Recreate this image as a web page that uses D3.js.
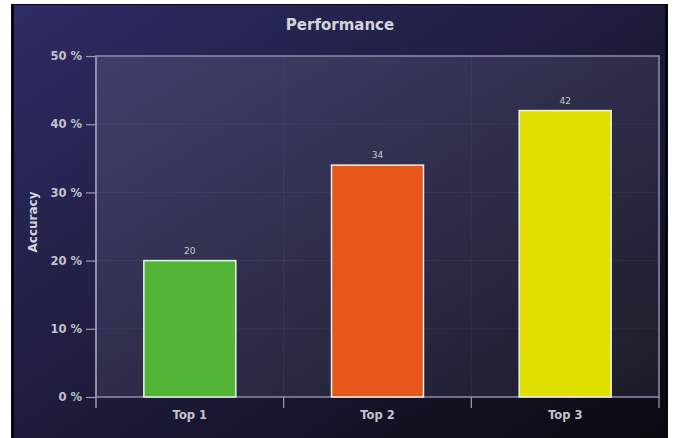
<!DOCTYPE html>
<html><head><meta charset="utf-8">
<script src="https://cdn.jsdelivr.net/npm/d3@7"></script>
<style>html,body{margin:0;padding:0;background:#fff;}svg{display:block;}</style>
</head><body>
<script>
const categories = ["Top 1", "Top 2", "Top 3"];
const values = [20, 34, 42];
const barColors = ["#52b536", "#e8561c", "#dfe000"];
const yTicks = [0, 10, 20, 30, 40, 50];
const title = "Performance";
const yTitle = "Accuracy";

const W = 675, H = 438;
const svg = d3.select("body").append("svg").attr("width", W).attr("height", H);
const defs = svg.append("defs");
const bg = defs.append("linearGradient").attr("id","bg").attr("x1","0").attr("y1","0").attr("x2","1").attr("y2","1");
bg.append("stop").attr("offset","0").attr("stop-color","#2e2c64");
bg.append("stop").attr("offset","0.5").attr("stop-color","#1d1c3c");
bg.append("stop").attr("offset","1").attr("stop-color","#0a0a10");
const pg = defs.append("linearGradient").attr("id","pg").attr("x1","0").attr("y1","0").attr("x2","1").attr("y2","1");
pg.append("stop").attr("offset","0").attr("stop-color","#403f6c");
pg.append("stop").attr("offset","0.6").attr("stop-color","#2a2a44");
pg.append("stop").attr("offset","1").attr("stop-color","#1c1c28");

// panel
svg.append("rect").attr("x",11).attr("y",4).attr("width",657).attr("height",434).attr("fill","#06060c");
svg.append("rect").attr("x",14).attr("y",5).attr("width",651).attr("height",433).attr("fill","url(#bg)");

const m = {left: 96, right: 659, top: 56, bottom: 397};
const x = d3.scaleBand().domain(categories).range([m.left, m.right]).paddingInner(0).paddingOuter(0);
const y = d3.scaleLinear().domain([0, 50]).range([m.bottom, m.top]);

// plot area
svg.append("rect").attr("x",m.left).attr("y",m.top).attr("width",m.right-m.left).attr("height",m.bottom-m.top)
  .attr("fill","url(#pg)");

// grid
const grid = svg.append("g").attr("stroke","#ffffff").attr("stroke-opacity",0.05).attr("stroke-width",1);
yTicks.slice(1,-1).forEach(t => grid.append("line").attr("x1",m.left).attr("x2",m.right).attr("y1",y(t)).attr("y2",y(t)));
categories.slice(1).forEach(c => grid.append("line").attr("x1",x(c)).attr("x2",x(c)).attr("y1",m.top).attr("y2",m.bottom));

svg.append("rect").attr("x",m.left).attr("y",m.top).attr("width",m.right-m.left).attr("height",m.bottom-m.top)
  .attr("fill","none").attr("stroke","#8e8cb0").attr("stroke-width",1.5);

// bars
const bw = x.bandwidth()*0.49;
svg.append("g").selectAll("rect").data(values).join("rect")
  .attr("x",(d,i)=>x(categories[i]) + (x.bandwidth()-bw)/2)
  .attr("y",d=>y(d)).attr("width",bw).attr("height",d=>y(0)-y(d))
  .attr("fill",(d,i)=>barColors[i]).attr("stroke","#f0f0f0").attr("stroke-width",1.5);

// value labels
svg.append("g").selectAll("text").data(values).join("text")
  .attr("x",(d,i)=>x(categories[i]) + x.bandwidth()/2).attr("y",d=>y(d)-7)
  .attr("text-anchor","middle").attr("font-family","DejaVu Sans").attr("font-size",9)
  .attr("fill","#c8c8d0").text(d=>d);

// y axis
const yAxis = d3.axisLeft(y).tickValues(yTicks).tickSize(10).tickPadding(4).tickFormat(d=>d+" %");
const ga = svg.append("g").attr("transform",`translate(${m.left},0)`).call(yAxis);
ga.select(".domain").attr("stroke","#9c9ab8").attr("stroke-width",1.5).attr("d",`M0,${m.top}V${m.bottom+11}`);
ga.selectAll(".tick line").attr("stroke","#9c9ab8").attr("stroke-width",1.2);
ga.selectAll(".tick text").attr("fill","#c4c4cc").attr("font-family","DejaVu Sans").attr("font-size",11.5).attr("font-weight","bold");

// x axis
const xAxis = d3.axisBottom(x).tickSize(0).tickPadding(14);
const gx = svg.append("g").attr("transform",`translate(0,${m.bottom})`).call(xAxis);
gx.select(".domain").remove();
gx.selectAll(".tick text").attr("fill","#c4c4cc").attr("font-family","DejaVu Sans").attr("font-size",11.5).attr("font-weight","bold");
categories.slice(1).concat(["__end"]).forEach((c,i) => {
  const xx = c === "__end" ? m.right : x(c);
  svg.append("line").attr("x1",xx).attr("x2",xx).attr("y1",m.bottom).attr("y2",m.bottom+11)
    .attr("stroke","#9c9ab8").attr("stroke-width",1.2);
});

// titles
svg.append("text").attr("x",340).attr("y",30).attr("text-anchor","middle")
  .attr("font-family","DejaVu Sans").attr("font-weight","bold").attr("font-size",15)
  .attr("fill","#d4d4dc").text(title);
svg.append("text").attr("transform","translate(37,222) rotate(-90)").attr("text-anchor","middle")
  .attr("font-family","DejaVu Sans").attr("font-weight","bold").attr("font-size",12)
  .attr("fill","#d4d4dc").text(yTitle);
</script>
</body></html>
